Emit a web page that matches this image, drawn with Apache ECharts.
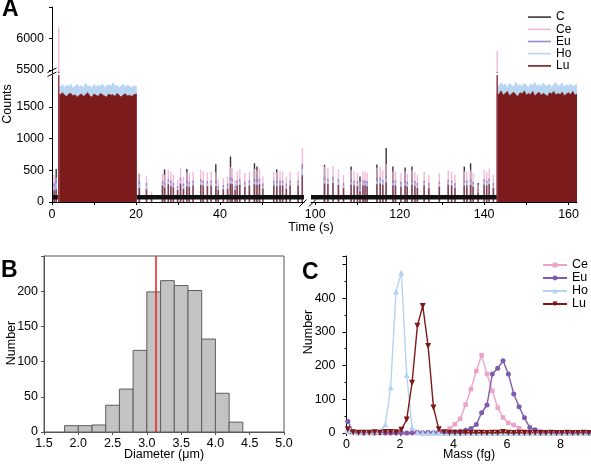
<!DOCTYPE html>
<html><head><meta charset="utf-8">
<script src="https://cdn.jsdelivr.net/npm/echarts@6/dist/echarts.min.js"></script>
<style>html,body{margin:0;padding:0;background:#fff}#c{width:591px;height:466px}</style>
</head><body><div id="c"></div>
<script>
// ---------------- Panel A data ----------------
const elemNames = ['C', 'Ce', 'Eu', 'Ho', 'Lu'];
// plateau (bead-solution) blocks, times in s
const blockLT = [1.5,2,2.5,3,3.5,4,4.5,5,5.5,6,6.5,7,7.5,8,8.5,9,9.5,10,10.5,11,11.5,12,12.5,13,13.5,14,14.5,15,15.5,16,16.5,17,17.5,18,18.5,19,19.5,20.2];
const blockLLu = [1700,1690,1720,1680,1660,1700,1710,1670,1690,1650,1680,1700,1660,1690,1720,1670,1650,1700,1680,1660,1710,1690,1670,1650,1700,1680,1690,1660,1710,1680,1650,1690,1700,1670,1680,1660,1690,1700];
const blockLHo = [1830,1810,1850,1800,1840,1820,1860,1790,1830,1850,1810,1840,1800,1870,1820,1830,1790,1850,1810,1840,1820,1860,1800,1830,1850,1810,1880,1820,1840,1800,1830,1850,1810,1840,1820,1800,1830,1810];
const blockRT = [143,143.5,144,144.5,145,145.5,146,146.5,147,147.5,148,148.5,149,149.5,150,150.5,151,151.5,152,152.5,153,153.5,154,154.5,155,155.5,156,156.5,157,157.5,158,158.5,159,159.5,160,160.5,161,161.5,162];
const blockRLu = [1720,1690,1750,1680,1710,1740,1670,1700,1730,1690,1660,1720,1700,1750,1680,1710,1690,1740,1670,1700,1730,1680,1710,1690,1660,1720,1700,1740,1680,1710,1690,1730,1670,1700,1720,1690,1740,1680,1700];
const blockRHo = [1850,1820,1880,1830,1860,1800,1870,1840,1810,1890,1830,1850,1820,1870,1840,1800,1860,1830,1880,1820,1850,1810,1870,1840,1830,1860,1800,1850,1880,1820,1840,1870,1810,1850,1830,1860,1820,1840,1850];
// carbon background level segments [t, counts]
const cBase1 = [[0, 76], [1.4, 76]];
const cBase2 = [[20.2, 74], [60, 75]];
const cBase3 = [[99, 75], [143, 74]];
// single-bead spikes: [t, C, Ce, Eu, Ho, Lu]
const spikesPre = [
  [0.5, 0, 430, 300, 250, 180],
  [1.0, 520, 380, 340, 300, 200],
  [1.6, 0, 6180, 0, 0, 5470]
];
const spikesLeft = [
  [20.8, 440, 460, 320, 280, 220],[22.5, 0, 410, 300, 260, 200],[23.7, 0, 165, 120, 100, 90],
  [26.3, 0, 450, 330, 290, 260],[26.8, 515, 430, 300, 270, 230],[27.7, 0, 505, 360, 320, 280],
  [28.3, 0, 480, 340, 300, 250],[28.9, 0, 425, 300, 260, 230],[29.9, 0, 350, 250, 220, 190],
  [30.6, 0, 530, 380, 330, 290],[31.3, 0, 400, 290, 250, 210],[32.1, 520, 470, 330, 290, 250],
  [32.7, 0, 450, 320, 280, 240],[33.6, 0, 480, 340, 300, 260],[35.4, 0, 505, 360, 320, 270],
  [36.0, 0, 480, 340, 300, 260],[37.0, 0, 465, 330, 290, 250],[37.9, 0, 480, 340, 300, 260],
  [39.0, 595, 470, 330, 290, 250],[39.6, 0, 350, 250, 220, 190],[40.8, 0, 375, 270, 230, 200],
  [41.8, 0, 400, 290, 250, 210],[42.5, 715, 550, 390, 340, 290],[42.9, 0, 530, 370, 330, 280],
  [43.6, 0, 350, 250, 220, 190],[44.1, 0, 480, 340, 300, 260],[44.7, 0, 515, 360, 320, 270],
  [45.9, 0, 455, 320, 280, 240],[47.0, 0, 480, 340, 300, 260],[48.2, 610, 520, 370, 320, 280],
  [48.8, 560, 500, 350, 310, 270],[49.4, 0, 530, 370, 330, 280],[50.2, 0, 400, 290, 250, 210],
  [52.8, 0, 480, 340, 300, 260],[53.5, 516, 470, 330, 290, 250],[54.3, 0, 480, 340, 300, 260],
  [54.9, 0, 480, 340, 300, 260],[55.8, 0, 400, 290, 250, 210],[56.7, 0, 480, 340, 300, 260],
  [58.6, 0, 480, 340, 300, 260],[59.6, 0, 850, 600, 520, 420]
];
const spikesRight = [
  [102.2, 585, 560, 400, 340, 290],[103.0, 0, 530, 370, 330, 280],[104.2, 0, 570, 400, 350, 300],
  [105.5, 0, 515, 360, 320, 270],[106.7, 0, 425, 300, 260, 220],[108.5, 560, 500, 350, 310, 270],
  [109.2, 0, 480, 340, 300, 260],[110.0, 0, 460, 330, 290, 250],[110.6, 400, 320, 230, 200, 170],
  [111.3, 0, 480, 340, 300, 260],[111.8, 0, 480, 340, 300, 260],[112.3, 0, 460, 330, 290, 250],
  [114.6, 590, 540, 380, 330, 280],[115.4, 0, 560, 390, 340, 290],[116.0, 0, 500, 350, 310, 270],
  [116.8, 850, 600, 420, 370, 310],[118.4, 560, 480, 340, 300, 260],[119.0, 0, 480, 340, 300, 260],
  [120.3, 0, 455, 320, 280, 240],[121.3, 545, 480, 340, 300, 260],[121.8, 0, 450, 320, 280, 240],
  [122.9, 560, 500, 350, 310, 270],[123.6, 0, 470, 330, 290, 250],[124.2, 0, 430, 300, 260, 220],
  [125.8, 0, 480, 340, 300, 260],[126.9, 0, 430, 300, 260, 220],[129.4, 0, 455, 320, 280, 240],
  [131.5, 0, 500, 350, 310, 270],[132.3, 0, 480, 340, 300, 260],[133.1, 0, 430, 300, 260, 220],
  [135.3, 560, 480, 340, 300, 260],[135.9, 0, 480, 340, 300, 260],[136.8, 610, 500, 350, 310, 270],
  [137.4, 0, 455, 320, 280, 240],[138.6, 300, 270, 200, 170, 150],[140.0, 0, 510, 360, 320, 270],
  [140.6, 0, 480, 340, 300, 260],[141.2, 0, 530, 370, 330, 280],[142.2, 0, 430, 300, 260, 220],
  [143.1, 0, 5800, 0, 0, 5460]
];
const yTicksLow = [0, 500, 1000, 1500];
const yTicksHigh = [5500, 6000];
const xTicksLeft = [0, 20, 40];
const xTicksRight = [100, 120, 140, 160];

// ---------------- Panel B data ----------------
const binEdges = [1.8,2.0,2.2,2.4,2.6,2.8,3.0,3.2,3.4,3.6,3.8,4.0,4.2,4.4];
const binCounts = [9, 9, 10, 38, 61, 116, 199, 215, 208, 201, 132, 55, 14];
const meanDiameter = 3.13;

// ---------------- Panel C data ----------------
const mass = [0.05,0.25,0.45,0.65,0.85,1.05,1.25,1.45,1.65,1.85,2.05,2.25,2.45,2.65,2.85,3.05,3.25,3.45,3.65,3.85,4.05,4.25,4.45,4.65,4.85,5.05,5.25,5.45,5.65,5.85,6.05,6.25,6.45,6.65,6.85,7.05,7.25,7.45,7.65,7.85,8.05,8.25,8.45,8.65,8.85,9.05];
const numCe = [3,0,0,0,0,0,0,0,0,0,0,0,0,0,0,0,0,1,3,13,26,42,84,130,184,231,175,125,75,46,30,24,14,5,2,0,0,0,0,0,0,0,0,0,0,0];
const numEu = [34,3,1,0,1,0,1,0,0,0,1,0,1,2,1,2,1,2,2,2,3,5,8,13,25,60,83,175,192,214,175,116,78,45,16,10,4,2,1,0,0,0,0,0,0,0];
const numHo = [8,3,2,5,2,5,6,25,135,420,476,172,17,2,0,0,1,0,0,0,0,0,0,0,0,0,0,0,0,0,0,0,0,0,0,0,0,0,0,0,0,0,0,0,0,0];
const numLu = [11,2,1,1,1,2,1,3,3,2,10,40,149,318,377,258,76,11,2,1,1,0,1,0,1,1,0,1,1,3,1,0,1,0,0,1,0,0,1,0,0,1,0,0,1,0];

// ---------------- styling ----------------
const FONT = '"Liberation Sans", Arial, Helvetica, sans-serif';
const FS = 12.5;
const colA = {C: '#111111', Ce: '#f0aed2', Eu: '#8f74c4', Ho: '#b8d5f2', Lu: '#7c1b1b'};
const colCPanel = {Ce: '#eca2c9', Eu: '#7d5cad', Ho: '#b4d3f2', Lu: '#7e1717'};

const series = [];
// A-name with trailing space keeps panel-A legend independent of panel C
const aName = e => (e === 'C' ? 'C' : e + ' ');

function addBlocks(xi, T, Lu, Ho) {
  series.push({type: 'line', name: aName('Ho'), xAxisIndex: xi, yAxisIndex: xi, data: T.map((t, i) => [t, Ho[i]]),
    symbol: 'none', lineStyle: {width: 0.8, color: colA.Ho}, itemStyle: {color: colA.Ho},
    areaStyle: {color: colA.Ho, opacity: 1}, z: 2, silent: true});
  series.push({type: 'line', name: aName('Lu'), xAxisIndex: xi, yAxisIndex: xi, data: T.map((t, i) => [t, Lu[i]]),
    symbol: 'none', lineStyle: {width: 0.8, color: colA.Lu}, itemStyle: {color: colA.Lu},
    areaStyle: {color: colA.Lu, opacity: 1}, z: 2, silent: true});
}
function addSpikes(xi, rows, minV) {
  elemNames.forEach((e, k) => {
    const data = rows.filter(r => r[k + 1] > minV).map(r => [r[0], r[k + 1]]);
    series.push({type: 'bar', name: aName(e), xAxisIndex: xi, yAxisIndex: xi, data,
      barWidth: 1.4, barGap: '-100%', clip: true, silent: true, z: 3,
      itemStyle: {color: colA[e], opacity: e === 'Lu' ? 0.8 : 0.85}});
  });
}
function addBase(xi, seg) {
  series.push({type: 'line', name: 'C', xAxisIndex: xi, yAxisIndex: xi, data: seg, symbol: 'none',
    lineStyle: {width: 4.5, color: colA.C}, itemStyle: {color: colA.C}, z: 4, silent: true});
}
// lower-left (0), upper-left (1), lower-right (2), upper-right (3)
addBlocks(0, blockLT, blockLLu, blockLHo);
addSpikes(0, spikesPre.concat(spikesLeft), 0);
addSpikes(1, spikesPre.concat(spikesLeft), 5450);
addBase(0, cBase1); addBase(0, cBase2);
addBlocks(2, blockRT, blockRLu, blockRHo);
addSpikes(2, spikesRight, 0);
addSpikes(3, spikesRight, 5450);
addBase(2, cBase3);

// Panel B histogram
series.push({
  type: 'custom', xAxisIndex: 4, yAxisIndex: 4, silent: true,
  data: binCounts.map((n, i) => [binEdges[i], binEdges[i + 1], n]),
  encode: {x: [0, 1], y: 2},
  renderItem: (params, api) => {
    const p0 = api.coord([api.value(0), api.value(2)]);
    const p1 = api.coord([api.value(1), 0]);
    return {type: 'rect', shape: {x: p0[0], y: p0[1], width: p1[0] - p0[0], height: p1[1] - p0[1]},
      style: {fill: '#c3c3c3', stroke: '#5e5e5e', lineWidth: 1}};
  },
  markLine: {silent: true, symbol: 'none', label: {show: false},
    lineStyle: {color: '#e8211d', width: 1.5, type: 'solid'}, data: [{xAxis: meanDiameter}]}
});

// Panel C lines
const cSpec = [['Ce', numCe, 'rect', 4.5, 0], ['Eu', numEu, 'circle', 5, 0], ['Ho', numHo, 'triangle', 6, 0], ['Lu', numLu, 'triangle', 6, 180]];
cSpec.forEach(([n, vals, sym, sz, rot]) => {
  series.push({type: 'line', name: n, xAxisIndex: 5, yAxisIndex: 5, data: mass.map((m, i) => [m, vals[i]]),
    symbol: sym, symbolSize: sz, symbolRotate: rot, showSymbol: true, silent: true,
    lineStyle: {width: 1.4, color: colCPanel[n]}, itemStyle: {color: colCPanel[n], borderWidth: 0}});
});

const plain = v => String(v);
const lbl = (extra) => Object.assign({color: '#000', fontSize: FS, fontFamily: FONT, formatter: plain}, extra);
const line = (c) => ({show: true, onZero: false, lineStyle: {color: c || '#000', width: 1}});
const tick = (extra) => Object.assign({show: true, inside: false, length: 3, lineStyle: {color: '#000', width: 1}}, extra);

const option = {
  animation: false,
  backgroundColor: '#fff',
  textStyle: {fontFamily: FONT},
  grid: [
    {left: 52, top: 75, width: 252, height: 127},
    {left: 52, top: 7, width: 252, height: 66},
    {left: 311, top: 75, width: 266, height: 127},
    {left: 311, top: 7, width: 266, height: 66},
    {left: 44, top: 256, width: 240, height: 176, show: true, borderColor: '#555', borderWidth: 1, backgroundColor: 'transparent'},
    {left: 346.5, top: 256, width: 243.5, height: 177}
  ].map(g => Object.assign({outerBoundsMode: 'none', containLabel: false}, g)),
  xAxis: [
    {gridIndex: 0, type: 'value', min: 0, max: 60, axisLine: line(), splitLine: {show: false},
      axisTick: tick({customValues: [0, 10, 20, 30, 40, 50]}), axisLabel: lbl({customValues: xTicksLeft, margin: 6})},
    {gridIndex: 1, type: 'value', min: 0, max: 60, show: false, splitLine: {show: false}},
    {gridIndex: 2, type: 'value', min: 99, max: 162, axisLine: line(), splitLine: {show: false},
      axisTick: tick({customValues: [100, 110, 120, 130, 140, 150, 160]}), axisLabel: lbl({customValues: xTicksRight, margin: 6})},
    {gridIndex: 3, type: 'value', min: 99, max: 162, show: false, splitLine: {show: false}},
    {gridIndex: 4, type: 'value', min: 1.5, max: 5, interval: 0.5, axisLine: line('#555'), splitLine: {show: false},
      axisTick: tick({lineStyle: {color: '#555'}}), axisLabel: lbl({margin: 5, formatter: v => v.toFixed(1)})},
    {gridIndex: 5, type: 'value', min: 0, max: 9.1, axisLine: line(), splitLine: {show: false},
      axisTick: tick({customValues: [0, 2, 4, 6, 8]}), axisLabel: lbl({customValues: [0, 2, 4, 6, 8], margin: 5})}
  ],
  yAxis: [
    {gridIndex: 0, type: 'value', min: 0, max: 2000, axisLine: line(), splitLine: {show: false},
      axisTick: tick({customValues: yTicksLow}), axisLabel: lbl({customValues: yTicksLow, margin: 8})},
    {gridIndex: 1, type: 'value', min: 5450, max: 6500, axisLine: line(), splitLine: {show: false},
      axisTick: tick({customValues: [5500, 6000, 6500]}), axisLabel: lbl({customValues: yTicksHigh, margin: 8})},
    {gridIndex: 2, type: 'value', min: 0, max: 2000, show: false, splitLine: {show: false}},
    {gridIndex: 3, type: 'value', min: 5450, max: 6500, show: false, splitLine: {show: false}},
    {gridIndex: 4, type: 'value', min: 0, max: 250, interval: 50, axisLine: line('#555'), splitLine: {show: false},
      axisTick: tick({lineStyle: {color: '#555'}}), axisLabel: lbl({margin: 6, formatter: v => (v >= 250 ? '' : String(v))})},
    {gridIndex: 5, type: 'value', min: 0, max: 525, interval: 100, axisLine: line(), splitLine: {show: false},
      axisTick: tick({length: 4}), minorTick: {show: true, splitNumber: 2, length: 2, lineStyle: {color: '#000'}},
      minorSplitLine: {show: false},
      axisLabel: lbl({margin: 11, formatter: v => (v % 100 === 0 && v <= 400 ? String(v) : '')})}
  ],
  legend: [
    {data: ['C', 'Ce ', 'Eu ', 'Ho ', 'Lu '], orient: 'vertical', left: 528, top: 11, padding: 0, itemGap: 0,
      icon: 'rect', itemWidth: 23, itemHeight: 1.6, selectedMode: false, formatter: n => n.trim(),
      textStyle: {fontSize: 12, color: '#000', fontFamily: FONT, lineHeight: 12.2}},
    {data: ['Ce', 'Eu', 'Ho', 'Lu'], orient: 'vertical', left: 542, top: 258.5, padding: 0, itemGap: 0,
      itemWidth: 24, itemHeight: 6, selectedMode: false,
      textStyle: {fontSize: FS, color: '#000', fontFamily: FONT, lineHeight: 11.2}}
  ],
  graphic: [
    {type: 'text', x: 2, y: 10, style: {text: 'A', font: 'bold 23px ' + FONT, fill: '#000', textVerticalAlign: 'middle'}},
    {type: 'text', x: 1, y: 270.5, style: {text: 'B', font: 'bold 23px ' + FONT, fill: '#000', textVerticalAlign: 'middle'}},
    {type: 'text', x: 302, y: 272.5, style: {text: 'C', font: 'bold 23px ' + FONT, fill: '#000', textVerticalAlign: 'middle'}},
    {type: 'text', x: 8, y: 104, rotation: Math.PI / 2, style: {text: 'Counts', font: FS + 'px ' + FONT, fill: '#000', textAlign: 'center', textVerticalAlign: 'middle'}},
    {type: 'text', x: 311, y: 228, style: {text: 'Time (s)', font: FS + 'px ' + FONT, fill: '#000', textAlign: 'center', textVerticalAlign: 'middle'}},
    {type: 'text', x: 12, y: 343, rotation: Math.PI / 2, style: {text: 'Number', font: FS + 'px ' + FONT, fill: '#000', textAlign: 'center', textVerticalAlign: 'middle'}},
    {type: 'text', x: 164, y: 455, style: {text: 'Diameter (\u03bcm)', font: FS + 'px ' + FONT, fill: '#000', textAlign: 'center', textVerticalAlign: 'middle'}},
    {type: 'text', x: 308.5, y: 332, rotation: Math.PI / 2, style: {text: 'Number', font: FS + 'px ' + FONT, fill: '#000', textAlign: 'center', textVerticalAlign: 'middle'}},
    {type: 'text', x: 469, y: 455, style: {text: 'Mass (fg)', font: FS + 'px ' + FONT, fill: '#000', textAlign: 'center', textVerticalAlign: 'middle'}},
    // axis break marks
    {type: 'line', shape: {x1: 47.5, y1: 72.5, x2: 56.5, y2: 68}, style: {stroke: '#000', lineWidth: 1}},
    {type: 'line', shape: {x1: 47.5, y1: 76.5, x2: 56.5, y2: 72}, style: {stroke: '#000', lineWidth: 1}},
    {type: 'line', shape: {x1: 299.5, y1: 206.5, x2: 306.5, y2: 199.5}, style: {stroke: '#000', lineWidth: 1}},
    {type: 'line', shape: {x1: 309, y1: 206.5, x2: 316, y2: 199.5}, style: {stroke: '#000', lineWidth: 1}}
  ],
  series
};
const chart = echarts.init(document.getElementById('c'), null, {renderer: 'canvas', width: 591, height: 466});
chart.setOption(option);
</script></body></html>
